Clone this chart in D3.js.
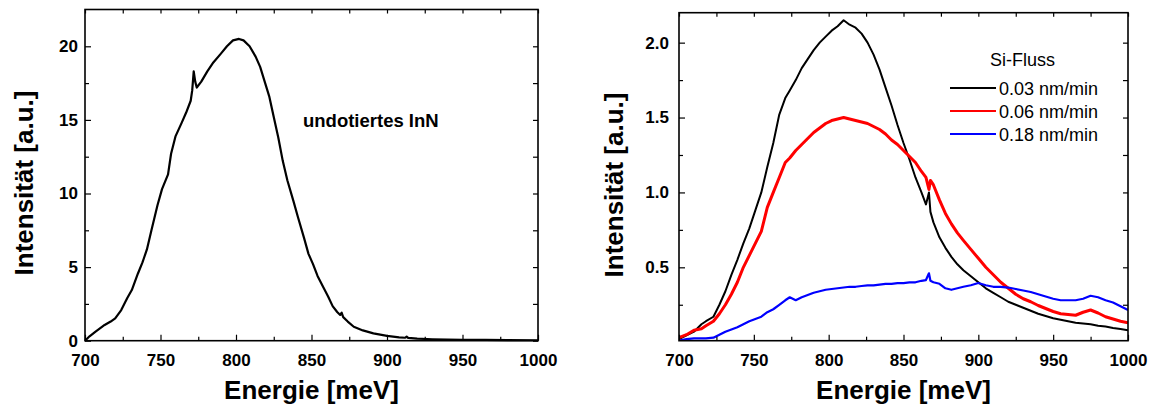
<!DOCTYPE html>
<html>
<head>
<meta charset="utf-8">
<script src="https://cdn.jsdelivr.net/npm/d3@7"></script>
<style>
  body { margin: 0; background: #fff; }
  svg text { font-family: Arial, "Liberation Sans", sans-serif; }
  .tick text { font-weight: bold; font-size: 17px; fill: #000; }
  .domain { display: none; }
  .tick line { stroke: #000; stroke-width: 1.2; }
</style>
</head>
<body>
<svg id="chart" width="1153" height="408"></svg>
<script>
// left panel: undoped InN (energy meV, intensity a.u.)
var undotE = [700, 703, 707, 713, 717, 720, 724, 728, 731, 735, 738, 739, 741, 744, 748, 751, 755, 757, 760, 764, 767, 770, 771, 772, 773, 774, 777, 781, 785, 790, 794, 798, 802, 805, 809, 813, 816, 819, 822, 825, 828, 831, 834, 838, 841, 845, 848, 851, 854, 858, 861, 864, 867, 869, 870, 871, 874, 878, 884, 891, 900, 908, 912, 913, 914, 920, 930, 940, 950, 965, 980, 1000];
var undotI = [0.0, 0.3, 0.62, 1.07, 1.3, 1.52, 2.08, 2.9, 3.44, 4.55, 5.3, 5.6, 6.2, 7.5, 9.2, 10.3, 11.3, 12.7, 13.9, 14.8, 15.5, 16.3, 17.0, 18.3, 17.6, 17.2, 17.6, 18.3, 18.9, 19.5, 20.0, 20.4, 20.5, 20.4, 20.0, 19.3, 18.6, 17.6, 16.6, 15.2, 13.8, 12.2, 10.9, 9.5, 8.4, 7.0, 5.9, 5.2, 4.4, 3.6, 3.0, 2.35, 1.95, 1.75, 1.9, 1.6, 1.3, 0.95, 0.7, 0.5, 0.33, 0.23, 0.2, 0.28, 0.19, 0.14, 0.1, 0.08, 0.06, 0.05, 0.04, 0.03];

// right panel: Si flux series
var rightE = [700, 705, 710, 715, 718, 723, 727, 731, 735, 739, 743, 747, 751, 755, 759, 763, 767, 771, 774, 778, 782, 786, 790, 794, 798, 802, 806, 810, 814, 818, 822, 826, 830, 834, 838, 842, 846, 850, 854, 858, 862, 865, 867, 868, 870, 874, 878, 882, 886, 890, 895, 900, 905, 910, 915, 920, 925, 930, 935, 940, 945, 950, 955, 960, 965, 970, 975, 980, 985, 990, 995, 1000];
var si003 = [0.02, 0.045, 0.07, 0.12, 0.14, 0.17, 0.25, 0.34, 0.45, 0.55, 0.66, 0.76, 0.88, 1.0, 1.17, 1.33, 1.52, 1.63, 1.68, 1.75, 1.83, 1.89, 1.95, 2.0, 2.04, 2.08, 2.11, 2.15, 2.12, 2.1, 2.06, 2.0, 1.92, 1.82, 1.7, 1.58, 1.45, 1.33, 1.22, 1.1, 1.0, 0.92, 1.0, 0.87, 0.8, 0.7, 0.63, 0.57, 0.52, 0.48, 0.44, 0.4, 0.36, 0.33, 0.3, 0.27, 0.25, 0.23, 0.21, 0.19, 0.175, 0.16, 0.15, 0.14, 0.13, 0.125, 0.12, 0.11, 0.105, 0.095, 0.088, 0.08];
var si006 = [0.03, 0.05, 0.08, 0.09, 0.11, 0.14, 0.19, 0.25, 0.32, 0.4, 0.5, 0.58, 0.66, 0.74, 0.9, 1.0, 1.1, 1.2, 1.23, 1.28, 1.32, 1.36, 1.4, 1.43, 1.46, 1.48, 1.49, 1.5, 1.49, 1.48, 1.47, 1.46, 1.44, 1.42, 1.39, 1.35, 1.32, 1.28, 1.24, 1.2, 1.14, 1.1, 1.02, 1.08, 1.05, 0.95, 0.86, 0.79, 0.73, 0.68, 0.62, 0.56, 0.5, 0.45, 0.4, 0.36, 0.32, 0.29, 0.27, 0.245, 0.225, 0.205, 0.19, 0.185, 0.18, 0.2, 0.215, 0.195, 0.17, 0.155, 0.14, 0.13];
var si018 = [0.01, 0.02, 0.025, 0.025, 0.025, 0.03, 0.05, 0.07, 0.085, 0.1, 0.12, 0.14, 0.155, 0.17, 0.2, 0.22, 0.25, 0.28, 0.3, 0.28, 0.3, 0.315, 0.33, 0.34, 0.35, 0.355, 0.36, 0.365, 0.37, 0.37, 0.375, 0.38, 0.38, 0.385, 0.39, 0.39, 0.395, 0.395, 0.4, 0.4, 0.41, 0.415, 0.46, 0.41, 0.4, 0.39, 0.36, 0.35, 0.36, 0.37, 0.38, 0.395, 0.38, 0.37, 0.37, 0.365, 0.355, 0.345, 0.335, 0.32, 0.305, 0.29, 0.28, 0.28, 0.28, 0.29, 0.31, 0.3, 0.28, 0.265, 0.24, 0.215];

var seriesNames = ["0.03 nm/min", "0.06 nm/min", "0.18 nm/min"];
var seriesColors = ["#000000", "#ff0000", "#0000ff"];
var seriesData = [si003, si006, si018];

var xMajor = [700, 750, 800, 850, 900, 950, 1000];
var xMinor = [725, 775, 825, 875, 925, 975];
var leftYMajor = [0, 5, 10, 15, 20];
var leftYMinor = [2.5, 7.5, 12.5, 17.5];
var rightYMajor = [0.5, 1.0, 1.5, 2.0];
var rightYMinor = [0.25, 0.75, 1.25, 1.75];

var svg = d3.select("#chart");

function drawFrame(x, y, yMajor, yMinor, yFmt, yLabelPad) {
    var g = svg.append("g");
    var x0 = x.range()[0], x1 = x.range()[1];
    var y0 = y.range()[0], y1 = y.range()[1];

    // bottom, with labels
    g.append("g").attr("transform", "translate(0," + y0 + ")")
        .call(d3.axisBottom(x).tickValues(xMajor).tickSize(-6).tickPadding(13).tickFormat(d3.format("d")));
    g.append("g").attr("transform", "translate(0," + y0 + ")")
        .call(d3.axisBottom(x).tickValues(xMinor).tickSize(-4).tickFormat(""));
    // top
    g.append("g").attr("transform", "translate(0," + y1 + ")")
        .call(d3.axisTop(x).tickValues(xMajor.concat(xMinor)).tickSize(-4).tickFormat(""));
    // left, with labels
    g.append("g").attr("transform", "translate(" + x0 + ",0)")
        .call(d3.axisLeft(y).tickValues(yMajor).tickSize(-6).tickPadding(yLabelPad).tickFormat(yFmt));
    g.append("g").attr("transform", "translate(" + x0 + ",0)")
        .call(d3.axisLeft(y).tickValues(yMinor).tickSize(-4).tickFormat(""));
    // right
    g.append("g").attr("transform", "translate(" + x1 + ",0)")
        .call(d3.axisRight(y).tickValues(yMajor.concat(yMinor)).tickSize(-5).tickFormat(""));

    g.append("rect")
        .attr("x", x0).attr("y", y1)
        .attr("width", x1 - x0).attr("height", y0 - y1)
        .attr("fill", "none").attr("stroke", "#000").attr("stroke-width", 1.6);
    return g;
}

function axisTitles(x, cx, cy) {
    svg.append("text")
        .attr("x", (x.range()[0] + x.range()[1]) / 2).attr("y", 399)
        .attr("text-anchor", "middle")
        .style("font-size", "26px").style("font-weight", "bold")
        .text("Energie [meV]");
    svg.append("text")
        .attr("transform", "translate(" + cx + "," + cy + ") rotate(-90)")
        .attr("text-anchor", "middle")
        .style("font-size", "26px").style("font-weight", "bold")
        .text("Intensität [a.u.]");
}

// ---- left panel
var xL = d3.scaleLinear().domain([700, 1000]).range([85, 538]);
var yL = d3.scaleLinear().domain([0, 22.5]).range([340.7, 9.5]);

var lineL = d3.line()
    .x(function (d, i) { return xL(undotE[i]); })
    .y(function (d) { return yL(d); });

svg.append("path")
    .datum(undotI)
    .attr("d", lineL)
    .attr("fill", "none").attr("stroke", "#000").attr("stroke-width", 2.2)
    .attr("stroke-linejoin", "round");

drawFrame(xL, yL, leftYMajor, leftYMinor, d3.format("d"), 7);
axisTitles(xL, 33, 183);

svg.append("text")
    .attr("x", 303).attr("y", 127)
    .style("font-size", "18.5px").style("font-weight", "bold")
    .text("undotiertes InN");

// ---- right panel
var xR = d3.scaleLinear().domain([700, 1000]).range([679, 1128]);
var yR = d3.scaleLinear().domain([0.01, 2.2]).range([340.7, 12.7]);

var lineR = d3.line()
    .x(function (d, i) { return xR(rightE[i]); })
    .y(function (d) { return yR(d); });

svg.append("clipPath").attr("id", "clipR")
    .append("rect").attr("x", 679).attr("y", 12.7).attr("width", 449).attr("height", 328);

svg.append("g").attr("clip-path", "url(#clipR)")
    .selectAll("path")
    .data(seriesData)
    .enter().append("path")
    .attr("d", lineR)
    .attr("fill", "none")
    .attr("stroke", function (d, i) { return seriesColors[i]; })
    .attr("stroke-width", function (d, i) { return i === 1 ? 3 : (i === 2 ? 2.2 : 2); })
    .attr("stroke-linejoin", "round");

drawFrame(xR, yR, rightYMajor, rightYMinor, d3.format(".1f"), 10);
axisTitles(xR, 623, 185);

// legend
var leg = svg.append("g");
leg.append("text")
    .attr("x", 990).attr("y", 66)
    .style("font-size", "18px")
    .text("Si-Fluss");
var items = leg.selectAll("g.item")
    .data(seriesNames)
    .enter().append("g").attr("class", "item")
    .attr("transform", function (d, i) { return "translate(0," + (88 + i * 23) + ")"; });
items.append("line")
    .attr("x1", 950).attr("x2", 996).attr("y1", 0).attr("y2", 0)
    .attr("stroke", function (d, i) { return seriesColors[i]; })
    .attr("stroke-width", 2.2);
items.append("text")
    .attr("x", 999).attr("y", 6.5)
    .style("font-size", "18px")
    .text(function (d) { return d; });
</script>
</body>
</html>
